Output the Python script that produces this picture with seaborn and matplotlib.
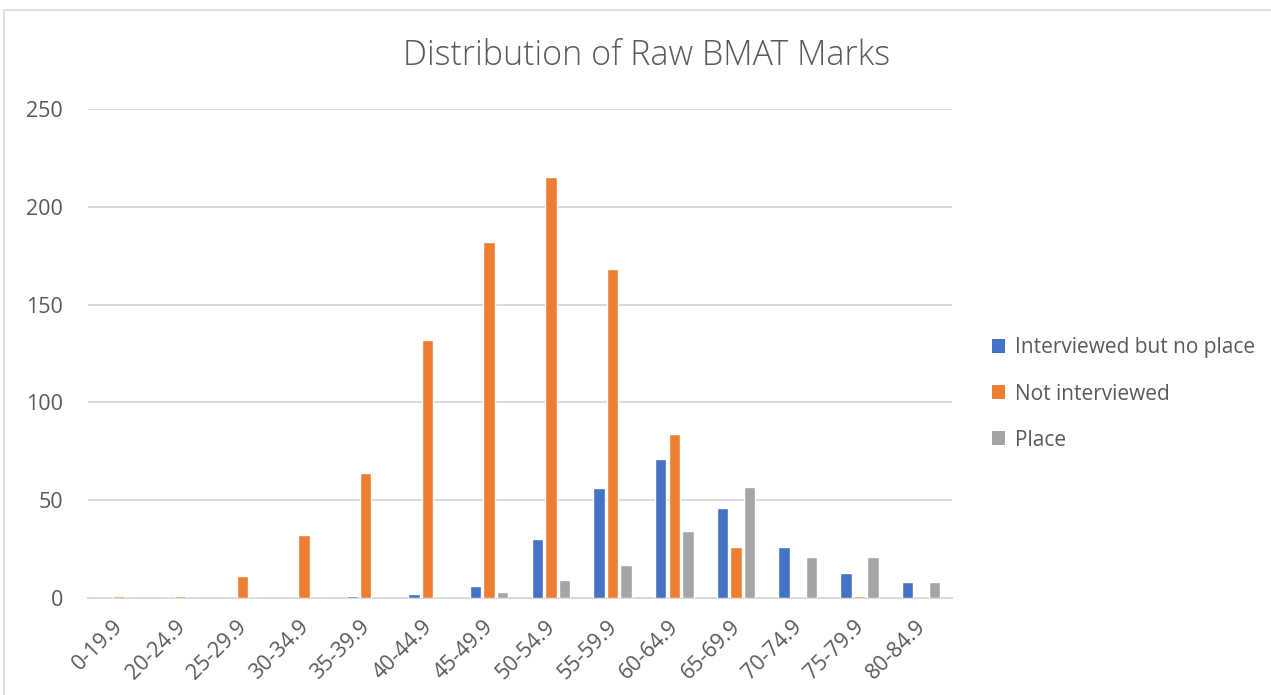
import pandas as pd
import matplotlib.pyplot as plt
import matplotlib.transforms as mtransforms
import seaborn as sns
from matplotlib.patches import Rectangle, Patch

# Datos
bins = ['0-19.9', '20-24.9', '25-29.9', '30-34.9', '35-39.9', '40-44.9', '45-49.9',
        '50-54.9', '55-59.9', '60-64.9', '65-69.9', '70-74.9', '75-79.9', '80-84.9']
interviewed_no_place = [0, 0, 0, 0, 1, 2, 6, 30, 56, 71, 46, 26, 13, 8]
not_interviewed = [1, 1, 11, 32, 64, 132, 182, 215, 168, 84, 26, 0, 1, 0]
place = [0, 0, 0, 0, 0, 0, 3, 9, 17, 34, 57, 21, 21, 8]

series = ['Interviewed but no place', 'Not interviewed', 'Place']
colors = ['#4472C4', '#ED7D31', '#A5A5A5']

df = pd.DataFrame({
    'bin': bins * 3,
    'group': [s for s in series for _ in bins],
    'count': interviewed_no_place + not_interviewed + place,
})

sns.set_style('white')
plt.rcParams['font.family'] = ['Open Sans', 'DejaVu Sans']
text_color = '#595959'

fig = plt.figure(figsize=(12.71, 6.95), dpi=100)
ax = fig.add_axes([88 / 1271, 1 - 598 / 695, (952 - 88) / 1271, (598 - 109) / 695])

sns.barplot(data=df, x='bin', y='count', hue='group', order=bins, hue_order=series,
            palette=colors, width=0.66, gap=0.16, saturation=1, ax=ax, legend=False,
            zorder=3)

ax.set_xlim(-0.5, len(bins) - 0.5)
ax.set_ylim(0, 250)
ax.set_yticks([0, 50, 100, 150, 200, 250])
ax.yaxis.grid(True, color='#D9D9D9', linewidth=1.4)
ax.set_axisbelow(True)
for side in ['top', 'right', 'left']:
    ax.spines[side].set_visible(False)
ax.spines['bottom'].set_color('#D9D9D9')
ax.spines['bottom'].set_linewidth(1.4)
ax.tick_params(axis='both', length=0, labelsize=15.5, colors=text_color)
ax.tick_params(axis='y', pad=18)
ax.tick_params(axis='x', pad=13)
offset = mtransforms.ScaledTranslation(-0.06, 0, fig.dpi_scale_trans)
for lbl in ax.get_xticklabels():
    lbl.set_rotation(45)
    lbl.set_ha('right')
    lbl.set_rotation_mode('anchor')
    lbl.set_transform(lbl.get_transform() + offset)
ax.set_xlabel('')
ax.set_ylabel('')

fig.text(647 / 1271, 1 - 56 / 695, 'Distribution of Raw BMAT Marks', ha='center', va='center',
         fontsize=24.5, color=text_color, fontweight='light')

handles = [Patch(facecolor=c, edgecolor='none') for c in colors]
fig.legend(handles, series, loc='center left', bbox_to_anchor=(973 / 1271, 1 - 394 / 695),
           frameon=False, fontsize=15, labelcolor=text_color, handlelength=0.65,
           handleheight=0.65, handletextpad=0.45, labelspacing=1.2)

# Borde del área del gráfico
fig.patches.append(Rectangle((4 / 1271, -0.1), 1.2, 1.1 - 10 / 695, transform=fig.transFigure,
                             fill=False, edgecolor='#D9D9D9', linewidth=1.2))

fig.savefig('out.png', dpi=100)
